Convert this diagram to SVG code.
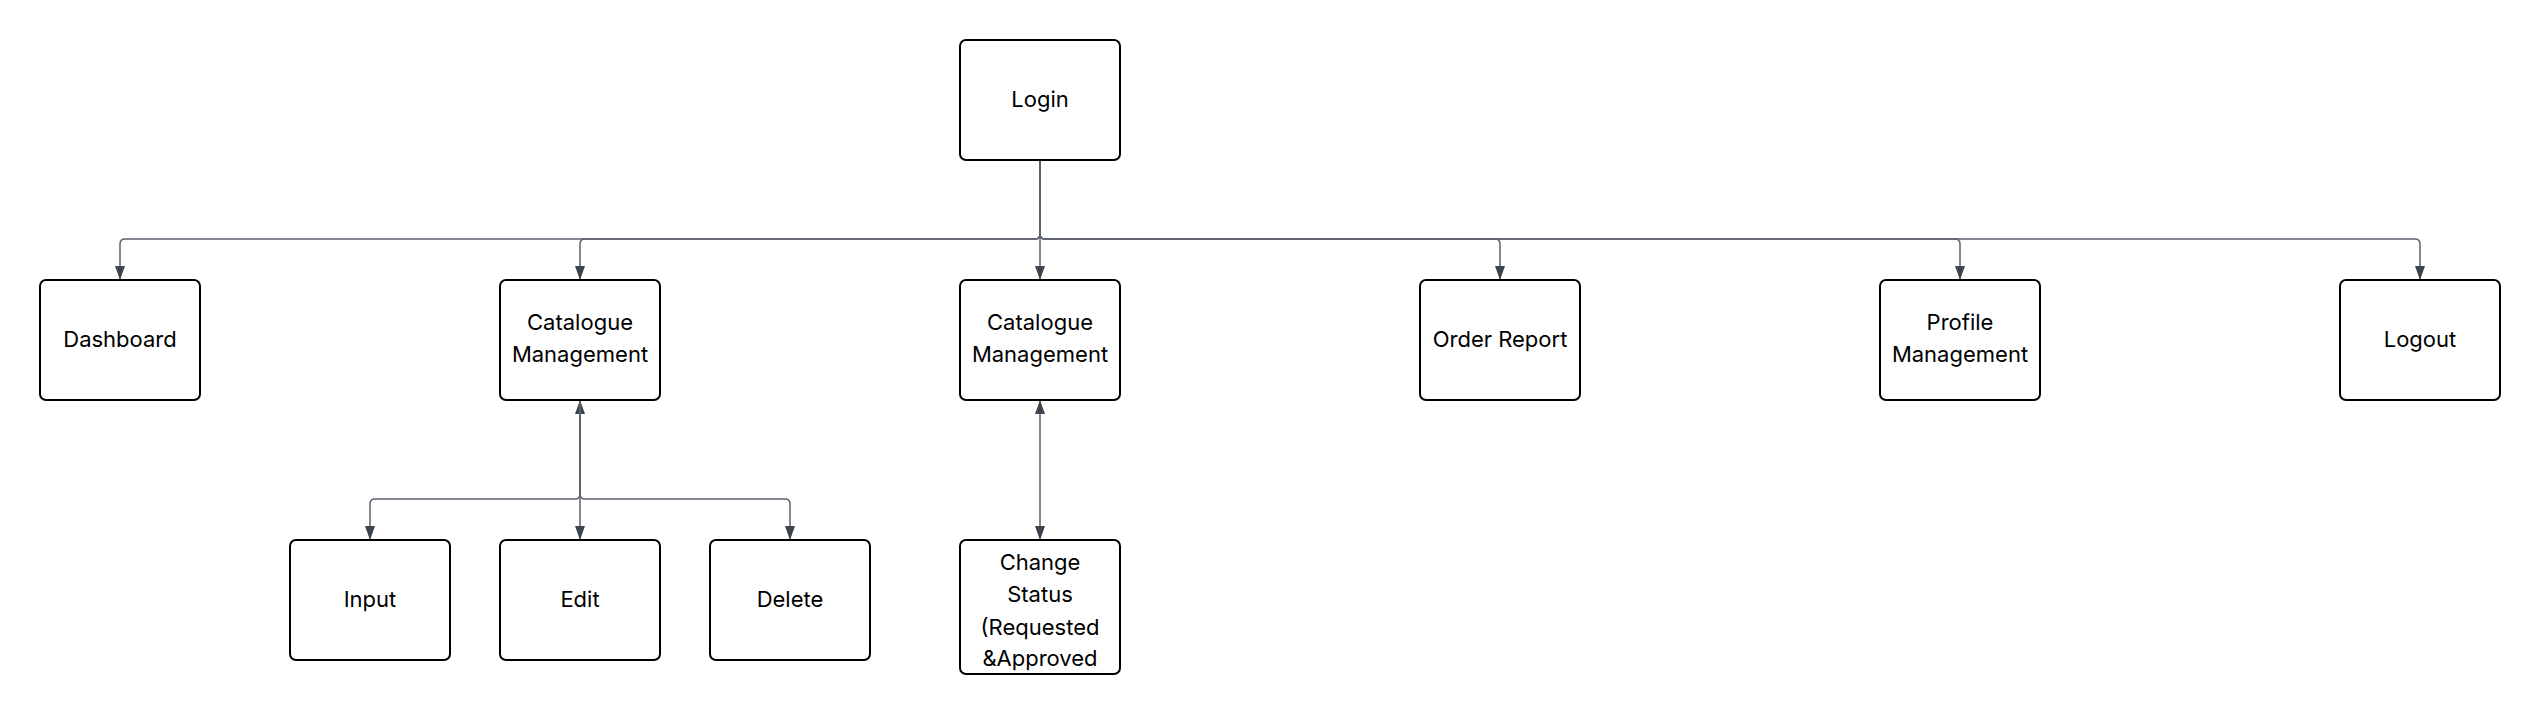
<svg xmlns="http://www.w3.org/2000/svg" width="2540" height="714" viewBox="0 0 2540 714">
<style>
.box{fill:#fff;stroke:#000;stroke-width:2}
.lbl{font-family:Inter,"Noto Sans","Liberation Sans",sans-serif;font-size:22px;fill:#000;text-anchor:middle;dominant-baseline:central}
.edge{fill:none;stroke:#5c636e;stroke-width:1.5}
</style>
<defs>
<marker id="ah" markerUnits="userSpaceOnUse" markerWidth="14" markerHeight="12" refX="14" refY="5" orient="auto" viewBox="0 0 14 10">
<path d="M0,0 L14,5 L0,10 Z" fill="#3d434d"/>
</marker>
<marker id="ahs" markerUnits="userSpaceOnUse" markerWidth="14" markerHeight="12" refX="0" refY="5" orient="auto" viewBox="0 0 14 10">
<path d="M14,0 L0,5 L14,10 Z" fill="#3d434d"/>
</marker>
</defs>
<rect width="2540" height="714" fill="#fff"/>
<g id="connectors">
<path class="edge" d="M1040,160 V234 Q1040,239 1035,239 H125 Q120,239 120,244 V280" marker-end="url(#ah)"/>
<path class="edge" d="M1040,160 V234 Q1040,239 1035,239 H585 Q580,239 580,244 V280" marker-end="url(#ah)"/>
<path class="edge" d="M1040,160 V280" marker-end="url(#ah)"/>
<path class="edge" d="M1040,160 V234 Q1040,239 1045,239 H1495 Q1500,239 1500,244 V280" marker-end="url(#ah)"/>
<path class="edge" d="M1040,160 V234 Q1040,239 1045,239 H1955 Q1960,239 1960,244 V280" marker-end="url(#ah)"/>
<path class="edge" d="M1040,160 V234 Q1040,239 1045,239 H2415 Q2420,239 2420,244 V280" marker-end="url(#ah)"/>
<path class="edge" d="M580,400 V540" marker-start="url(#ahs)" marker-end="url(#ah)"/>
<path class="edge" d="M580,400 V494 Q580,499 575,499 H375 Q370,499 370,504 V540" marker-end="url(#ah)"/>
<path class="edge" d="M580,400 V494 Q580,499 585,499 H785 Q790,499 790,504 V540" marker-end="url(#ah)"/>
<path class="edge" d="M1040,400 V540" marker-start="url(#ahs)" marker-end="url(#ah)"/>
</g>
<g id="login"><rect class="box" x="960" y="40" width="160" height="120" rx="6"/><text class="lbl" x="1040" y="99">Login</text></g>
<g id="dashboard"><rect class="box" x="40" y="280" width="160" height="120" rx="6"/><text class="lbl" x="120" y="339">Dashboard</text></g>
<g id="catalogue1"><rect class="box" x="500" y="280" width="160" height="120" rx="6"/><text class="lbl" x="580" y="322">Catalogue</text><text class="lbl" x="580" y="354">Management</text></g>
<g id="catalogue2"><rect class="box" x="960" y="280" width="160" height="120" rx="6"/><text class="lbl" x="1040" y="322">Catalogue</text><text class="lbl" x="1040" y="354">Management</text></g>
<g id="order-report"><rect class="box" x="1420" y="280" width="160" height="120" rx="6"/><text class="lbl" x="1500" y="339">Order Report</text></g>
<g id="profile"><rect class="box" x="1880" y="280" width="160" height="120" rx="6"/><text class="lbl" x="1960" y="322">Profile</text><text class="lbl" x="1960" y="354">Management</text></g>
<g id="logout"><rect class="box" x="2340" y="280" width="160" height="120" rx="6"/><text class="lbl" x="2420" y="339">Logout</text></g>
<g id="input"><rect class="box" x="290" y="540" width="160" height="120" rx="6"/><text class="lbl" x="370" y="599">Input</text></g>
<g id="edit"><rect class="box" x="500" y="540" width="160" height="120" rx="6"/><text class="lbl" x="580" y="599">Edit</text></g>
<g id="delete"><rect class="box" x="710" y="540" width="160" height="120" rx="6"/><text class="lbl" x="790" y="599">Delete</text></g>
<g id="change-status"><rect class="box" x="960" y="540" width="160" height="134" rx="6"/><text class="lbl" x="1040" y="562">Change</text><text class="lbl" x="1040" y="594">Status</text><text class="lbl" x="1040" y="627">(Requested</text><text class="lbl" x="1040" y="658">&amp;Approved</text></g>
</svg>
